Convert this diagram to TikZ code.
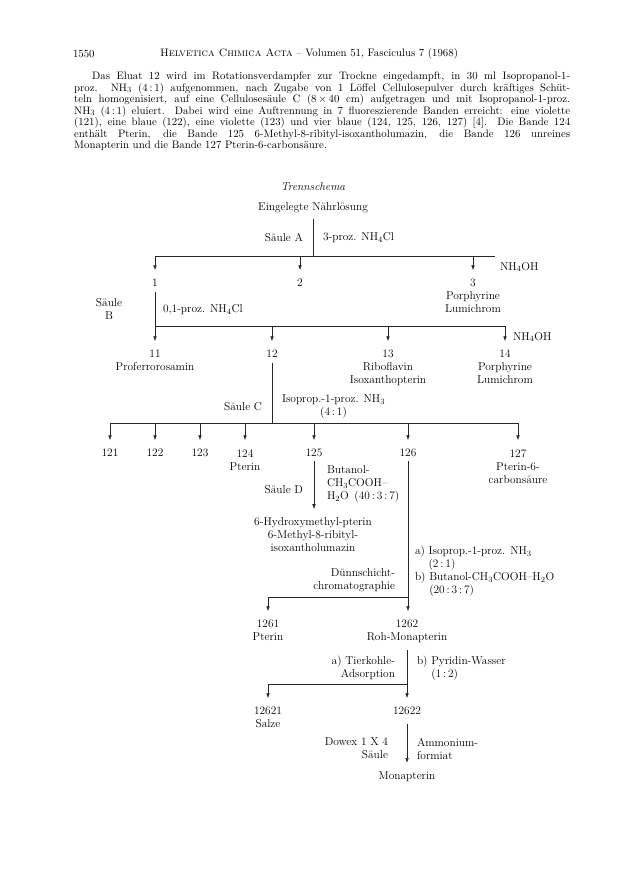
\documentclass[tikz,border=0pt]{standalone}
\usetikzlibrary{arrows.meta}
\newcommand\dfont{\fontsize{11.4}{13}\selectfont}
\newcommand\bfont{\fontsize{10.8}{11.5}\selectfont}
\tikzset{
  lab/.style={inner sep=0pt, outer sep=0pt, font=\dfont, align=center, text=black},
  labN/.style={lab, anchor=north},
  conn/.style={line width=0.6pt, draw=black!85},
  arr/.style={conn, -{Latex[length=5pt,width=3.6pt]}, shorten >=9pt},
}
\begin{document}
\begin{tikzpicture}[x=1pt,y=-1pt]
\useasboundingbox[fill=white] (0,0) rectangle (624,888);

% ---------- page header and paragraph
\node[lab, font=\bfont, anchor=west] (pg) at (73,54) {1550};
\node[lab, font=\bfont, anchor=west] (hd) at (160,54) {\textsc{Helvetica Chimica Acta} -- Volumen 51, Fasciculus 7 (1968)};
\node[inner sep=0pt, anchor=north west, text width=496pt, font=\bfont, align=justify] (para) at (74,72)
{\hyphenpenalty=10000 \exhyphenpenalty=10000 \tolerance=10000 \pretolerance=10000
\hspace*{18pt}Das Eluat 12 wird im Rotationsverdampfer zur Trockne eingedampft, in 30 ml Isopropanol-1-\linebreak
proz. NH$_3$ (4\,:\,1) aufgenommen, nach Zugabe von 1 Löffel Cellulosepulver durch kräftiges Schüt-\linebreak
teln homogenisiert, auf eine Cellulosesäule C (8\,$\times$\,40 cm) aufgetragen und mit Isopropanol-1-proz.\linebreak
NH$_3$ (4\,:\,1) eluiert. Dabei wird eine Auftrennung in 7 fluoreszierende Banden erreicht: eine violette\linebreak
(121), eine blaue (122), eine violette (123) und vier blaue (124, 125, 126, 127) [4]. Die Bande 124\linebreak
enthält Pterin, die Bande 125 6-Methyl-8-ribityl-isoxantholumazin, die Bande 126 unreines\linebreak
Monapterin und die Bande 127 Pterin-6-carbonsäure.};

% ---------- stage 1
\node[lab] (tr) at (313,187) {\textit{Trennschema}};
\node[lab] (src) at (313,208) {Eingelegte Nährlösung};
\coordinate (b1) at (313,256);
\coordinate (b1l) at (155,256);
\coordinate (b1r) at (495,256);
\draw[conn, shorten <=6pt] (src) -- (b1);
\draw[conn] (b1l) -- (b1r);
\node[lab, anchor=east] (sA) at (303,238) {Säule A};
\node[lab, anchor=west] (eA) at (323,238) {3-proz. NH$_4$Cl};
\node[labN] (n1) at (155,279.3) {1};
\node[labN] (n2) at (300,279.3) {2};
\node[labN] (n3) at (473,279.3) {3\\Porphyrine\\Lumichrom};
\draw[arr] (b1l) -- (n1);
\draw[arr] (n2 |- b1) -- (n2);
\draw[arr] (n3 |- b1) -- (n3);
\node[lab, anchor=west] (oh1) at (500,267) {NH$_4$OH};

% ---------- stage 2
\coordinate (b2) at (155,326);
\coordinate (b2r) at (505,326);
\draw[conn, shorten <=5pt] (n1) -- (b2);
\draw[conn] (b2) -- (b2r);
\node[lab] (sB) at (109,309) {Säule\\B};
\node[lab, anchor=west] (eB) at (163,310) {0,1-proz. NH$_4$Cl};
\node[labN] (n11) at (155,350.3) {11\\Proferrorosamin};
\node[labN] (n12) at (272,350.3) {12};
\node[labN] (n13) at (388,350.3) {13\\Riboflavin\\Isoxanthopterin};
\node[labN] (n14) at (505,350.3) {14\\Porphyrine\\Lumichrom};
\draw[arr] (b2) -- (n11);
\draw[arr] (n12 |- b2) -- (n12);
\draw[arr] (n13 |- b2) -- (n13);
\draw[arr] (b2r) -- (n14);
\node[lab, anchor=west] (oh2) at (513,337) {NH$_4$OH};

% ---------- stage 3
\coordinate (b3) at (272,423);
\coordinate (b3l) at (110,423);
\coordinate (b3r) at (518,423);
\draw[conn, shorten <=5pt] (n12) -- (b3);
\draw[conn] (b3l) -- (b3r);
\node[lab, anchor=east] (sC) at (262,407) {Säule C};
\node[lab, anchor=west] (eC) at (282,406.5) {Isoprop.-1-proz. NH$_3$\\(4\,:\,1)};
\node[labN] (n121) at (110,449.3) {121};
\node[labN] (n122) at (155,449.3) {122};
\node[labN] (n123) at (200,449.3) {123};
\node[labN] (n124) at (245,449.3) {124\\Pterin};
\node[labN] (n125) at (314,449.3) {125};
\node[labN] (n126) at (408,449.3) {126};
\node[labN] (n127) at (518,449.3) {127\\Pterin-6-\\carbonsäure};
\foreach \n in {n121,n122,n123,n124,n125,n126,n127}
  \draw[arr] (\n |- b3) -- (\n);

% ---------- column D
\node[labN] (hyd) at (313,517.2) {6-Hydroxymethyl-pterin\\6-Methyl-8-ribityl-\\isoxantholumazin};
\draw[arr, shorten <=3.5pt, shorten >=8pt] (n125) -- (n125 |- hyd.north);
\node[lab, anchor=east] (sD) at (303,490) {Säule D};
\node[lab, anchor=north west, align=left] (eD) at (327,466) {Butanol-\\CH$_3$COOH--\\H$_2$O\enspace(40\,:\,3\,:\,7)};

% ---------- thin-layer chromatography
\coordinate (b4l) at (268,597);
\node[labN] (n1261) at (268,620.3) {1261\\Pterin};
\node[labN] (n1262) at (407,620.3) {1262\\Roh-Monapterin};
\draw[arr, shorten <=3.5pt] (n126) -- (n126 |- n1262.north);
\draw[conn] (n126 |- b4l) -- (b4l);
\draw[arr] (b4l) -- (n1261);
\node[lab, anchor=north east, align=right] (dc) at (395,569) {Dünnschicht-\\chromatographie};
\node[lab, anchor=north west, align=left] (la) at (415,546) {a)~Isoprop.-1-proz. NH$_3$\\\hphantom{a)~}(2\,:\,1)};
\node[lab, anchor=north west, align=left] (lb) at (415,572) {b)~Butanol-CH$_3$COOH--H$_2$O\\\hphantom{b)~}(20\,:\,3\,:\,7)};

% ---------- adsorption
\coordinate (b5l) at (268,684);
\node[labN] (n12621) at (268,707.3) {12621\\Salze};
\node[labN] (n12622) at (407,707.3) {12622};
\draw[arr, shorten <=7pt] (n1262) -- (n1262 |- n12622.north);
\draw[conn] (n1262 |- b5l) -- (b5l);
\draw[arr] (b5l) -- (n12621);
\node[lab, anchor=north east, align=right] (ta) at (395,656) {a)~Tierkohle-\\Adsorption};
\node[lab, anchor=north west, align=left] (tb) at (417,656) {b)~Pyridin-Wasser\\\hphantom{b)~}(1\,:\,2)};

% ---------- Dowex
\node[lab] (mon) at (407,777) {Monapterin};
\draw[arr, shorten <=9pt] (n12622) -- (mon);
\node[lab, anchor=north east, align=right] (dw) at (388,738) {Dowex 1 X 4\\Säule};
\node[lab, anchor=north west, align=left] (af) at (417,738) {Ammonium-\\formiat};
\end{tikzpicture}
\end{document}
